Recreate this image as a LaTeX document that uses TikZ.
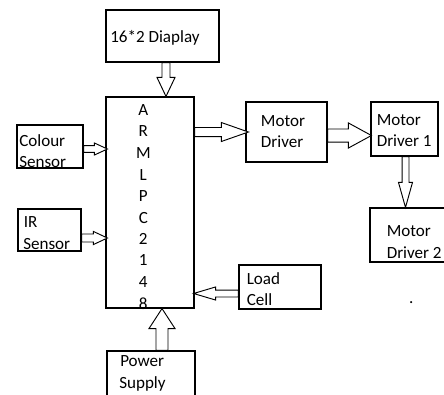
\documentclass[tikz,border=0pt]{standalone}
\usepackage{fontspec}
\setmainfont{Carlito}
\usetikzlibrary{calc,fit}
\newcommand{\blockarrow}[5]{% start, tip, shaft half, head half, head length
  \coordinate (hb) at ($(#2)!#5!(#1)$);
  \draw[arrowline] ($(#1)!#3!90:(#2)$) -- ($(hb)!#3!90:(#2)$) -- ($(hb)!#4!90:(#2)$) -- (#2)
    -- ($(hb)!#4!-90:(#2)$) -- ($(hb)!#3!-90:(#2)$) -- ($(#1)!#3!-90:(#2)$) -- cycle;
}
\begin{document}
\begin{tikzpicture}[x=0.75pt,y=-0.75pt,
  box/.style={draw, line width=0.85pt, inner sep=0pt},
  txt/.style={inner sep=0pt, anchor=base west, font=\fontsize{12.8}{15.5}\selectfont, text=black},
  ltr/.style={txt, anchor=base},
  arrowline/.style={draw, line width=0.7pt, fill=white, line join=miter}]
\useasboundingbox (0,0) rectangle (444,394);
\clip (0,0) rectangle (444,394);

% boxes
\node[box, fit={(106,10) (219,62)}] (disp) {};
\node[box, fit={(106,97) (194,308)}] (arm) {};
\node[box, fit={(17,125) (83,168)}] (colour) {};
\node[box, fit={(18,209) (81,251)}] (ir) {};
\node[box, fit={(239,265) (321,309)}] (load) {};
\node[box, fit={(107,351) (195,404)}] (power) {};
\node[box, fit={(246,102) (327,162)}] (md) {};
\node[box, fit={(371,102) (438,156)}] (mdone) {};
\node[box, fit={(370,208) (450,262)}] (mdtwo) {};

% texts
\node[txt] (dispT) at (110,42) {16*2 Diaplay};
\node[txt] (colT1) at (19,146) {Colour};
\node[txt] (colT2) at (19,167.5) {Sensor};
\node[txt] (irT1) at (23.5,227.7) {IR};
\node[txt] (irT2) at (23,249.3) {Sensor};
\node[txt] (loadT1) at (246.5,284) {Load};
\node[txt] (loadT2) at (246.5,305) {Cell};
\node[txt] (powT1) at (120,366.7) {Power};
\node[txt] (powT2) at (119,388) {Supply};
\node[txt] (mdT1) at (260.7,126.7) {Motor};
\node[txt] (mdT2) at (260.7,147.7) {Driver};
\node[txt] (mdoneT1) at (376.5,125) {Motor};
\node[txt] (mdoneT2) at (376.5,146.7) {Driver 1};
\node[txt] (mdtwoT1) at (386.5,236.7) {Motor};
\node[txt] (mdtwoT2) at (386.5,258.3) {Driver 2};
\node[ltr] (l1) at (143.3,115) {A};
\node[ltr] (l2) at (143.3,136.7) {R};
\node[ltr] (l3) at (143.3,158.3) {M};
\node[ltr] (l4) at (143.3,180) {L};
\node[ltr] (l5) at (143.3,201.7) {P};
\node[ltr] (l6) at (143.3,223.3) {C};
\node[ltr] (l7) at (143.3,244.5) {2};
\node[ltr] (l8) at (143.3,265.7) {1};
\node[ltr] (l9) at (143.3,287.3) {4};
\node[ltr] (l10) at (143.3,309.3) {8};
\node[txt] (dot) at (408.8,303) {.};

% arrows
\coordinate (a1s) at ($(disp.south)+(3.5,0)$);
\coordinate (a1e) at (a1s |- arm.north);
\blockarrow{a1s}{a1e}{3pt}{6.75pt}{14.25pt}

\coordinate (a2s) at ($(colour.east)+(0,2.5)$);
\coordinate (a2e) at ($(a2s -| arm.west)+(2,0)$);
\blockarrow{a2s}{a2e}{2.5pt}{4.5pt}{9.75pt}

\coordinate (a3s) at ($(ir.east)+(0,8)$);
\coordinate (a3e) at ($(a3s -| arm.west)+(2,0)$);
\blockarrow{a3s}{a3e}{3pt}{4.9pt}{10.5pt}

\coordinate (a4s) at ($(load.west)+(0,6.5)$);
\coordinate (a4e) at ($(a4s -| arm.east)+(-1,0)$);
\blockarrow{a4s}{a4e}{2.6pt}{4.9pt}{16.5pt}

\coordinate (a5s) at ($(power.north)+(11,0)$);
\coordinate (a5e) at (a5s |- arm.south);
\blockarrow{a5s}{a5e}{4.5pt}{9.75pt}{15pt}

\coordinate (a6s) at (arm.east |- md.west);
\coordinate (a6e) at ($(md.west)+(3,0)$);
\blockarrow{a6s}{a6e}{3.4pt}{7.1pt}{20.25pt}

\coordinate (a7s) at ($(md.east)+(0,3.5)$);
\coordinate (a7e) at ($(a7s -| mdone.west)+(1,0)$);
\blockarrow{a7s}{a7e}{4.9pt}{9.4pt}{17.25pt}

\coordinate (a8s) at ($(mdone.south)+(1,0)$);
\coordinate (a8e) at (a8s |- mdtwo.north);
\blockarrow{a8s}{a8e}{2.6pt}{5.25pt}{18.75pt}
\end{tikzpicture}
\end{document}
